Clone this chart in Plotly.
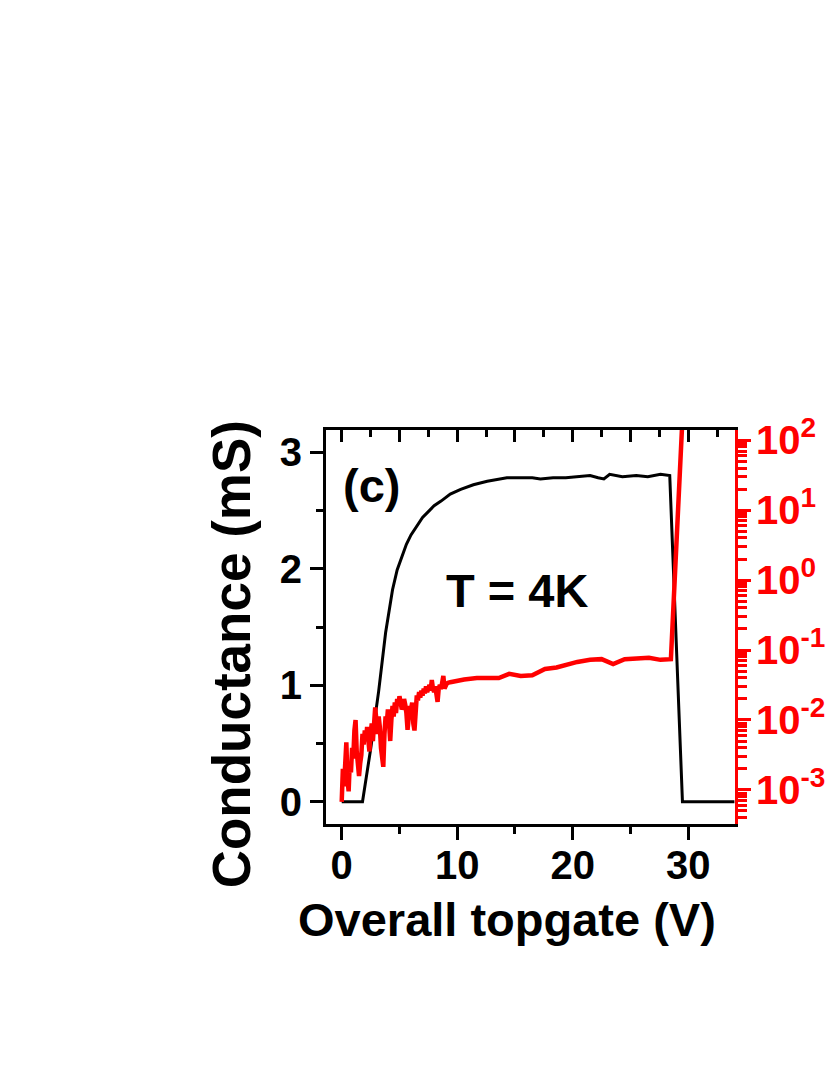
import plotly.graph_objects as go

# black curve: conductance (mS) vs overall topgate (V)
gate_v = [0.0, 1.8, 2.5, 3.2, 3.8, 4.1, 4.4, 4.8, 5.2, 5.6, 6.0, 6.5, 7.0, 7.5, 8.0, 8.6,
          9.4, 10.3, 11.4, 12.6, 13.7, 14.3, 15.5, 16.5, 17.2, 18.3, 19.4, 20.5, 21.5,
          22.2, 22.7, 23.2, 24.3, 25.5, 26.5, 27.6, 28.4, 29.5, 34.0]
cond_ms = [0.0, 0.0, 0.45, 0.95, 1.45, 1.65, 1.82, 1.99, 2.11, 2.21, 2.29, 2.37, 2.44, 2.49, 2.54, 2.58,
           2.64, 2.68, 2.72, 2.75, 2.77, 2.78, 2.78, 2.78, 2.77, 2.78, 2.78, 2.79, 2.80,
           2.78, 2.77, 2.81, 2.79, 2.80, 2.79, 2.81, 2.80, 0.0, 0.0]

# red curve: log10 of the right-axis quantity
ratio_v = [0.0, 0.1, 0.2, 0.3, 0.4, 0.5, 0.6, 0.7, 0.8, 0.9,
           1.0, 1.1, 1.2, 1.3, 1.4, 1.5, 1.6, 1.7, 1.8, 1.9,
           2.0, 2.1, 2.2, 2.3, 2.4, 2.5, 2.6, 2.7, 2.8, 2.9,
           3.0, 3.1, 3.2, 3.3, 3.4, 3.5, 3.6, 3.7, 3.8, 3.9,
           4.0, 4.1, 4.2, 4.3, 4.4, 4.5, 4.6, 4.7, 4.8, 4.9,
           5.0, 5.1, 5.2, 5.3, 5.4, 5.5, 5.6, 5.7, 5.8, 5.9,
           6.0, 6.1, 6.2, 6.3, 6.4, 6.5, 6.6, 6.7, 6.8, 6.9,
           7.0, 7.1, 7.2, 7.3, 7.4, 7.5, 7.6, 7.7, 7.8, 7.9,
           8.0, 8.1, 8.2, 8.3, 8.4, 8.5, 8.6, 8.7, 8.8, 8.9,
           9.0, 9.1, 9.2, 9.4, 10.6, 11.7, 13.6, 14.5, 15.5, 16.5,
           17.6, 18.6, 20.4, 21.5, 22.5, 23.5, 24.5, 26.6, 27.6, 28.5, 29.7]
ratio_exp = [-3.17, -2.70, -2.95, -2.55, -2.32, -2.85, -3.02, -2.60, -2.75, -2.40,
             -2.55, -2.15, -2.00, -2.45, -2.60, -2.80, -2.62, -2.50, -2.20, -2.35,
             -2.15, -2.30, -2.10, -2.25, -2.45, -2.20, -2.05, -2.30, -1.90, -1.82,
             -2.00, -2.20, -1.95, -2.10, -2.40, -2.55, -2.67, -2.20, -1.95, -2.05,
             -1.85, -2.05, -2.30, -2.00, -1.80, -1.95, -1.75, -1.90, -1.70, -1.80,
             -1.66, -1.75, -1.85, -1.80, -1.70, -1.78, -1.90, -2.14, -2.00, -1.80,
             -1.85, -1.75, -2.05, -2.15, -1.90, -1.65, -1.72, -1.60, -1.68, -1.58,
             -1.65, -1.55, -1.62, -1.52, -1.60, -1.55, -1.50, -1.58, -1.43, -1.55,
             -1.60, -1.52, -1.70, -1.74, -1.55, -1.50, -1.56, -1.45, -1.37, -1.55,
             -1.50, -1.48, -1.47, -1.46, -1.42, -1.40, -1.40, -1.34, -1.37, -1.36,
             -1.27, -1.25, -1.17, -1.14, -1.13, -1.20, -1.13, -1.11, -1.14, -1.13, 3.0]

x_ticks = [0, 10, 20, 30]
y_ticks = [0, 1, 2, 3]
log_ticks = [1e-3, 1e-2, 1e-1, 1e0, 1e1, 1e2]
log_labels = ["10<sup>-3</sup>", "10<sup>-2</sup>", "10<sup>-1</sup>",
              "10<sup>0</sup>", "10<sup>1</sup>", "10<sup>2</sup>"]
log_minor = [k * 10.0 ** e for e in range(-4, 2) for k in range(2, 10)]

FONT = "Liberation Sans, Arial, sans-serif"
x_range = [-1.36, 34.05]

fig = go.Figure()
fig.add_trace(go.Scatter(x=gate_v, y=cond_ms, mode="lines",
                         line=dict(color="black", width=3),
                         xaxis="x", yaxis="y", showlegend=False))
fig.add_trace(go.Scatter(x=ratio_v, y=[10 ** e for e in ratio_exp], mode="lines",
                         line=dict(color="#ff0000", width=4.5),
                         xaxis="x2", yaxis="y2", showlegend=False))

fig.update_layout(
    width=830, height=1075,
    margin=dict(l=326, r=95, t=430, b=251, autoexpand=False),
    paper_bgcolor="white", plot_bgcolor="white",
    font=dict(family=FONT, color="black"),
    xaxis=dict(
        range=x_range, tickmode="array", tickvals=x_ticks, automargin=False,
        ticks="outside", ticklen=13, tickwidth=3, tickcolor="black",
        minor=dict(dtick=5, tick0=0, ticks="outside", ticklen=7, tickwidth=3, tickcolor="black"),
        showline=True, linewidth=3, linecolor="black",
        showgrid=False, zeroline=False, ticklabelstandoff=-9,
        tickfont=dict(size=40, weight="bold", family=FONT),
    ),
    xaxis2=dict(
        range=x_range, overlaying="x", side="top", anchor="y2", automargin=False,
        tickmode="linear", tick0=0, dtick=5,
        ticks="inside", ticklen=12, tickwidth=3, tickcolor="black",
        minor=dict(dtick=2.5, tick0=0, ticks="inside", ticklen=7, tickwidth=3, tickcolor="black"),
        showticklabels=False, showline=True, linewidth=3, linecolor="black",
        showgrid=False, zeroline=False,
    ),
    yaxis=dict(
        range=[-0.19, 3.19], tickmode="array", tickvals=y_ticks, automargin=False,
        ticks="outside", ticklen=13, tickwidth=3, tickcolor="black",
        minor=dict(dtick=0.5, tick0=0, ticks="outside", ticklen=7, tickwidth=3, tickcolor="black"),
        showline=True, linewidth=3, linecolor="black",
        showgrid=False, zeroline=False,
        tickfont=dict(size=40, weight="bold", family=FONT),
    ),
    yaxis2=dict(
        type="log", range=[-3.487, 2.146], overlaying="y", side="right", anchor="x2",
        automargin=False,
        tickmode="array", tickvals=log_ticks, ticktext=log_labels,
        ticks="outside", ticklen=13, tickwidth=3, tickcolor="#ff0000",
        minor=dict(tickmode="array", tickvals=log_minor, ticks="outside",
                   ticklen=9, tickwidth=3, tickcolor="#ff0000"),
        showline=True, linewidth=3, linecolor="#ff0000",
        showgrid=False, zeroline=False, ticklabelstandoff=-3,
        tickfont=dict(size=40, weight="bold", family=FONT, color="#ff0000"),
    ),
    annotations=[
        dict(text="Conductance (mS)", textangle=-90, x=-0.232, y=0.431,
             xref="paper", yref="paper", xanchor="center", yanchor="middle",
             showarrow=False, font=dict(size=53, weight="bold", family=FONT)),
        dict(text="Overall topgate (V)", x=0.4425, y=-0.2424,
             xref="paper", yref="paper", xanchor="center", yanchor="middle",
             showarrow=False, font=dict(size=47, weight="bold", family=FONT)),
        dict(text="(c)", x=0.037, y=0.858, xref="paper", yref="paper",
             xanchor="left", yanchor="middle", showarrow=False,
             font=dict(size=47, weight="bold", family=FONT)),
        dict(text="T = 4K", x=0.466, y=0.592, xref="paper", yref="paper",
             xanchor="center", yanchor="middle", showarrow=False,
             font=dict(size=47, weight="bold", family=FONT)),
    ],
)

fig.write_html("out.html", config={"displayModeBar": False},
               post_script="document.body.style.margin='0px';")
